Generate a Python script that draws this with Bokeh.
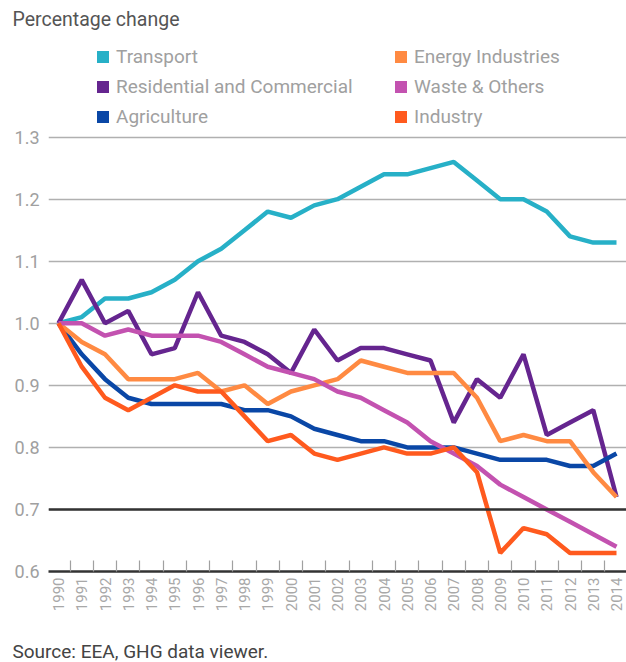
import math
from bokeh.plotting import figure
from bokeh.models import (FixedTicker, Legend, LegendItem, Span, Range1d, Title,
                          ColumnDataSource, PrintfTickFormatter)
from bokeh.embed import file_html
from bokeh.resources import INLINE

years = list(range(1990, 2015))

transport = [1.00, 1.01, 1.04, 1.04, 1.05, 1.07, 1.10, 1.12, 1.15, 1.18, 1.17, 1.19, 1.20,
             1.22, 1.24, 1.24, 1.25, 1.26, 1.23, 1.20, 1.20, 1.18, 1.14, 1.13, 1.13]
residential = [1.00, 1.07, 1.00, 1.02, 0.95, 0.96, 1.05, 0.98, 0.97, 0.95, 0.92, 0.99, 0.94,
               0.96, 0.96, 0.95, 0.94, 0.84, 0.91, 0.88, 0.95, 0.82, 0.84, 0.86, 0.72]
agriculture = [1.00, 0.95, 0.91, 0.88, 0.87, 0.87, 0.87, 0.87, 0.86, 0.86, 0.85, 0.83, 0.82,
               0.81, 0.81, 0.80, 0.80, 0.80, 0.79, 0.78, 0.78, 0.78, 0.77, 0.77, 0.79]
energy = [1.00, 0.97, 0.95, 0.91, 0.91, 0.91, 0.92, 0.89, 0.90, 0.87, 0.89, 0.90, 0.91,
          0.94, 0.93, 0.92, 0.92, 0.92, 0.88, 0.81, 0.82, 0.81, 0.81, 0.76, 0.72]
waste = [1.00, 1.00, 0.98, 0.99, 0.98, 0.98, 0.98, 0.97, 0.95, 0.93, 0.92, 0.91, 0.89,
         0.88, 0.86, 0.84, 0.81, 0.79, 0.77, 0.74, 0.72, 0.70, 0.68, 0.66, 0.64]
industry = [1.00, 0.93, 0.88, 0.86, 0.88, 0.90, 0.89, 0.89, 0.85, 0.81, 0.82, 0.79, 0.78,
            0.79, 0.80, 0.79, 0.79, 0.80, 0.76, 0.63, 0.67, 0.66, 0.63, 0.63, 0.63]

series_names = ["Transport", "Residential and Commercial", "Agriculture",
                "Energy Industries", "Waste & Others", "Industry"]
series_values = [transport, residential, agriculture, energy, waste, industry]
series_colors = ["#27b0c7", "#65258f", "#0a47a6", "#ff8a42", "#c352b0", "#ff5a1e"]

y_ticks = [0.6, 0.7, 0.8, 0.9, 1.0, 1.1, 1.2, 1.3]
highlight_level = 0.7

FONT = "Roboto"

# layout (pixels)
W, H = 626, 662
FRAME_LEFT = 48
FRAME_TOP, FRAME_BOTTOM = 34, 572
GRID_TOP = 136  # pixel row of the top grid line (1.3)
FIRST_X, LAST_X = 58, 616  # pixel columns of first and last year
px_per_unit = (FRAME_BOTTOM - GRID_TOP) / (y_ticks[-1] - y_ticks[0])
y_end = y_ticks[-1] + (GRID_TOP - FRAME_TOP) / px_per_unit
px_per_year = (LAST_X - FIRST_X) / (years[-1] - years[0])
x_start = years[0] - (FIRST_X - FRAME_LEFT) / px_per_year
x_end = years[-1] + (W - LAST_X) / px_per_year

p = figure(width=W, height=H, output_backend="svg", toolbar_location=None,
           x_range=Range1d(x_start, x_end), y_range=Range1d(y_ticks[0], y_end),
           min_border_left=FRAME_LEFT, min_border_right=0,
           min_border_top=FRAME_TOP, min_border_bottom=H - FRAME_BOTTOM)
p.outline_line_color = None
p.xgrid.grid_line_color = None
p.ygrid.grid_line_color = "#b0b0b0"
p.ygrid.grid_line_width = 1.5
p.ygrid.ticker = FixedTicker(ticks=y_ticks)

p.title.text = "Percentage change"
p.title.align = "left"
p.title.offset = -36
p.title.text_font = FONT
p.title.text_font_size = "19.5px"
p.title.text_font_style = "normal"
p.title.text_color = "#555555"

# x axis
p.xaxis.ticker = FixedTicker(ticks=years,
                             minor_ticks=[y - 0.5 for y in years] + [years[-1] + 0.5])
p.xaxis.major_label_orientation = math.pi / 2
p.xaxis.major_tick_line_color = None
p.xaxis.major_tick_out = 0
p.xaxis.major_tick_in = 0
p.xaxis.minor_tick_line_color = "#a0a0a0"
p.xaxis.minor_tick_line_width = 1.2
p.xaxis.minor_tick_in = 11
p.xaxis.minor_tick_out = 0
p.xaxis.axis_line_color = "#333333"
p.xaxis.axis_line_width = 2.5
p.xaxis.major_label_text_color = "#a8a8a8"
p.xaxis.major_label_text_font = FONT
p.xaxis.major_label_text_font_size = "15px"
p.xaxis.major_label_standoff = 6

# y axis
p.yaxis.ticker = FixedTicker(ticks=y_ticks)
p.yaxis.formatter = PrintfTickFormatter(format="%.1f")
p.yaxis.axis_line_color = None
p.yaxis.major_tick_line_color = None
p.yaxis.major_tick_out = 0
p.yaxis.major_tick_in = 0
p.yaxis.minor_tick_line_color = None
p.yaxis.major_label_text_color = "#a0a0a0"
p.yaxis.major_label_text_font = FONT
p.yaxis.major_label_text_font_size = "18px"
p.yaxis.major_label_standoff = 9

p.add_layout(Span(location=highlight_level, dimension="width", line_color="#333333",
                  line_width=2.5))

items = []
for name, vals, col in zip(series_names, series_values, series_colors):
    src = ColumnDataSource(dict(x=years, y=vals))
    p.line("x", "y", source=src, line_color=col, line_width=4.5)
    # zero-size swatch renderer used only for the square legend glyph
    sw = p.rect("x", "y", source=src, width=0, height=0, fill_color=col,
                line_color=None, fill_alpha=1.0)
    items.append(LegendItem(label=name, renderers=[sw]))


def make_legend(its, loc):
    return Legend(items=its, location=loc, orientation="vertical",
                  glyph_width=15, glyph_height=15, label_standoff=6, spacing=7,
                  padding=0, margin=0, border_line_color=None, background_fill_alpha=0,
                  label_text_font=FONT, label_text_font_size="19px",
                  label_text_color="#a0a0a0", label_height=22)


p.add_layout(make_legend(items[:3], (47, 443)))
p.add_layout(make_legend(items[3:], (345, 443)))

# leading blank line keeps the source note at the bottom edge of the page
p.add_layout(Title(text="\nSource: EEA, GHG data viewer.", align="left", offset=-36,
                   vertical_align="bottom", standoff=0, text_font=FONT,
                   text_font_size="19px", text_font_style="normal",
                   text_color="#444444"), "below")

open("out.html", "w").write(file_html(p, INLINE))
